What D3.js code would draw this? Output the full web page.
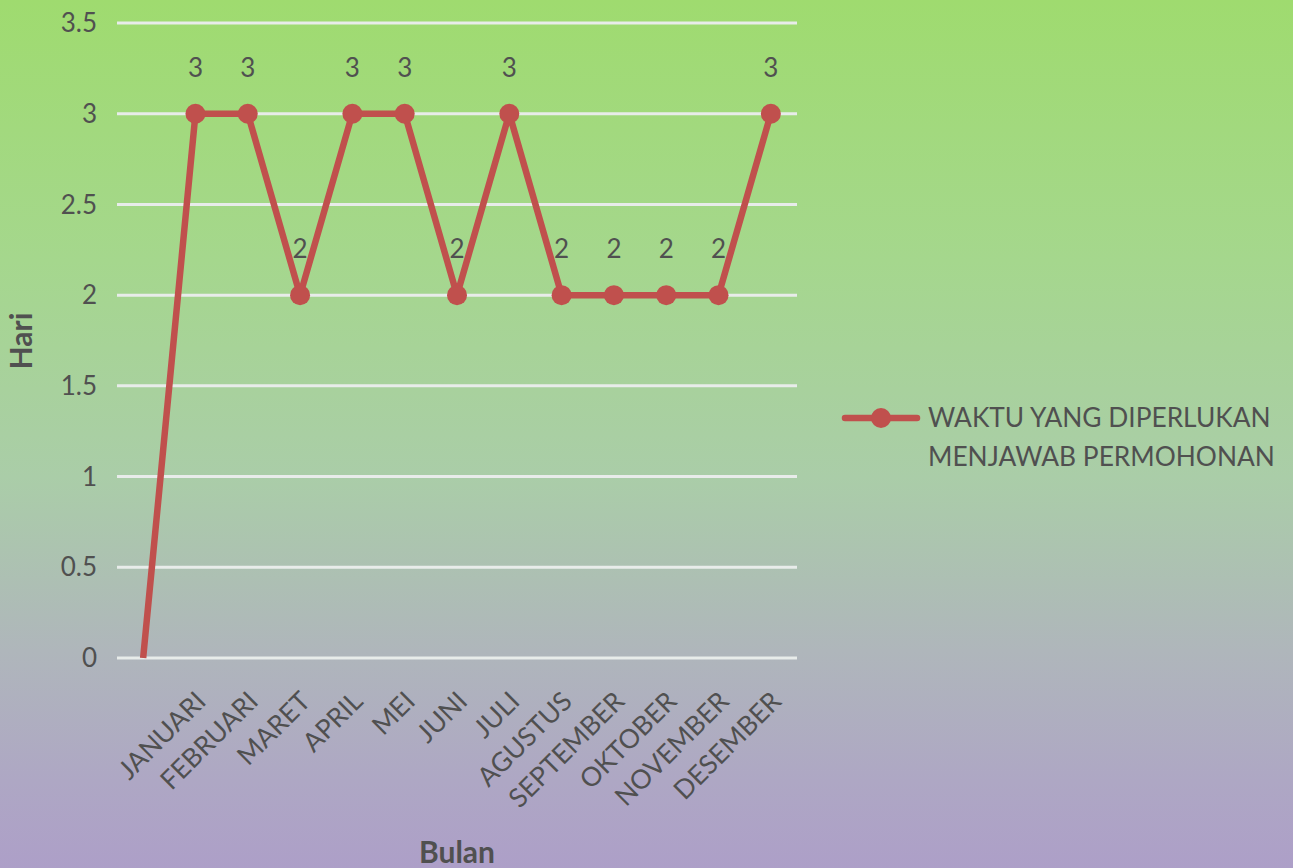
<!DOCTYPE html>
<html>
<head>
<meta charset="utf-8">
<script src="https://cdn.jsdelivr.net/npm/d3@7"></script>
<style>
  body { margin: 0; }
  svg { display: block; font-family: Lato, "Open Sans", sans-serif; }
</style>
</head>
<body>
<div id="chart"></div>
<script>
// data
const months = ["", "JANUARI", "FEBRUARI", "MARET", "APRIL", "MEI", "JUNI", "JULI",
    "AGUSTUS", "SEPTEMBER", "OKTOBER", "NOVEMBER", "DESEMBER"];
const days = [0, 3, 3, 2, 3, 3, 2, 3, 2, 2, 2, 2, 3];
const yTicks = [0, 0.5, 1, 1.5, 2, 2.5, 3, 3.5];
const seriesName = ["WAKTU YANG DIPERLUKAN", "MENJAWAB PERMOHONAN"];

const width = 1293, height = 868;
const lineColor = "#c0504d";
const textColor = "#505050";

const svg = d3.select("#chart")
    .append("svg")
    .attr("width", width)
    .attr("height", height);

// background gradient green -> purple
const grad = svg.append("defs").append("linearGradient")
    .attr("id", "bg")
    .attr("x1", 0).attr("y1", 0).attr("x2", 0).attr("y2", 1);
[[0, "#9fdb6f"], [0.3, "#a5d78d"], [0.55, "#aacda8"], [0.75, "#afb6bb"], [0.9, "#aea7c4"], [1, "#ad9fc8"]]
    .forEach(s => grad.append("stop").attr("offset", s[0]).attr("stop-color", s[1]));
svg.append("rect").attr("width", width).attr("height", height).attr("fill", "url(#bg)");

const x = d3.scaleBand().domain(months.map((m, i) => i)).range([117, 797]);
const y = d3.scaleLinear().domain([0, 3.5]).range([658, 23]);
const cx = i => x(i) + x.bandwidth() / 2;

// gridlines
svg.append("g")
    .selectAll("line")
    .data(yTicks)
    .join("line")
    .attr("x1", 117).attr("x2", 797)
    .attr("y1", d => y(d)).attr("y2", d => y(d))
    .attr("stroke", "#e8ecea")
    .attr("stroke-width", 3);

// y axis labels
svg.append("g")
    .selectAll("text")
    .data(yTicks)
    .join("text")
    .attr("x", 97)
    .attr("y", d => y(d))
    .attr("dy", "0.35em")
    .attr("text-anchor", "end")
    .attr("font-size", 26)
    .attr("fill", textColor)
    .text(d => d);

// x category labels
svg.append("g")
    .selectAll("text")
    .data(months)
    .join("text")
    .attr("transform", (d, i) => `translate(${cx(i) + 12},${703}) rotate(-45)`)
    .attr("text-anchor", "end")
    .attr("font-size", 26.5)
    .attr("fill", textColor)
    .text(d => d);

// line
const line = d3.line().x((d, i) => cx(i)).y(d => y(d));
svg.append("path")
    .datum(days)
    .attr("d", line)
    .attr("fill", "none")
    .attr("stroke", lineColor)
    .attr("stroke-width", 6.5)
    .attr("stroke-linejoin", "round");

// markers (none for the blank category)
const pts = days.map((v, i) => ({ v, i })).filter(d => months[d.i] !== "");
svg.append("g")
    .selectAll("circle")
    .data(pts)
    .join("circle")
    .attr("cx", d => cx(d.i))
    .attr("cy", d => y(d.v))
    .attr("r", 10)
    .attr("fill", lineColor);

// data labels
svg.append("g")
    .selectAll("text")
    .data(pts)
    .join("text")
    .attr("x", d => cx(d.i))
    .attr("y", d => y(d.v) - 46)
    .attr("dy", "0.35em")
    .attr("text-anchor", "middle")
    .attr("font-size", 26)
    .attr("fill", textColor)
    .text(d => d.v);

// axis titles
svg.append("text")
    .attr("transform", "translate(32,341) rotate(-90)")
    .attr("text-anchor", "middle")
    .attr("font-size", 30)
    .attr("font-weight", "bold")
    .attr("fill", textColor)
    .text("Hari");

svg.append("text")
    .attr("x", 457)
    .attr("y", 863)
    .attr("text-anchor", "middle")
    .attr("font-size", 30)
    .attr("font-weight", "bold")
    .attr("fill", textColor)
    .text("Bulan");

// legend
const legend = svg.append("g");
legend.append("line")
    .attr("x1", 845).attr("x2", 917)
    .attr("y1", 418).attr("y2", 418)
    .attr("stroke", lineColor)
    .attr("stroke-width", 6.5)
    .attr("stroke-linecap", "round");
legend.append("circle")
    .attr("cx", 881).attr("cy", 418).attr("r", 10)
    .attr("fill", lineColor);
legend.selectAll("text.leg")
    .data(seriesName)
    .join("text")
    .attr("class", "leg")
    .attr("x", 928)
    .attr("y", (d, i) => 418 + i * 39)
    .attr("dy", "0.35em")
    .attr("font-size", 26.3)
    .attr("fill", textColor)
    .text(d => d);
</script>
</body>
</html>
